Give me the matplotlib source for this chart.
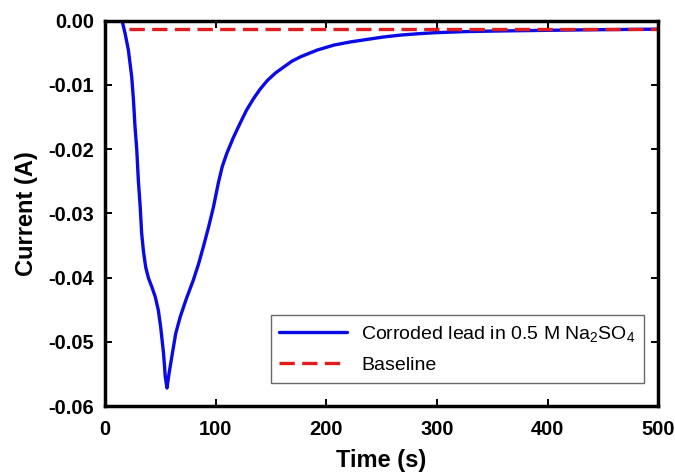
import matplotlib
matplotlib.use("Agg")
import matplotlib.pyplot as plt

plt.rcParams['font.family'] = ['Liberation Sans', 'DejaVu Sans']
plt.rcParams['mathtext.fontset'] = 'custom'
plt.rcParams['mathtext.rm'] = 'Liberation Sans'
plt.rcParams['mathtext.it'] = 'Liberation Sans:italic'
plt.rcParams['mathtext.bf'] = 'Liberation Sans:bold'

# Data
time_s = [15.4, 18.1, 21.1, 24.1, 25.7, 27.1, 28.7, 30.1, 31.8, 33.1, 34.8, 36.8, 39.3, 42.2,
          45.4, 48.2, 50.3, 52.9, 54.5, 56.0, 57.9, 60.4, 63.9, 68.0, 73.5, 79.8, 84.5, 88.9,
          93.5, 97.9, 102.5, 106.0, 110.0, 116.0, 122.0, 128.0, 134.0, 140.0, 146.8, 154.0,
          161.9, 169.0, 177.0, 192.0, 207.0, 222.0, 237.5, 252.0, 267.7, 283.0, 298.0, 325.0,
          356.0, 386.0, 430.0, 476.0, 500.0]
current_a = [0.0, -0.00196, -0.00456, -0.0087, -0.01235, -0.0165, -0.0201, -0.0248, -0.029,
             -0.0331, -0.0360, -0.0384, -0.0401, -0.0414, -0.0430, -0.0451, -0.0477, -0.0518,
             -0.0555, -0.0572, -0.0549, -0.0523, -0.0487, -0.0461, -0.0433, -0.0404, -0.0379,
             -0.0352, -0.0322, -0.0291, -0.0252, -0.0227, -0.0207, -0.0182, -0.0160, -0.0139,
             -0.0122, -0.0107, -0.0093, -0.00815, -0.00717, -0.0063, -0.0056, -0.00456,
             -0.00379, -0.0033, -0.0029, -0.00253, -0.00223, -0.00203, -0.00187, -0.0017,
             -0.0016, -0.00153, -0.00143, -0.00135, -0.00132]
baseline_t = [22, 500]
baseline_a = [-0.00134, -0.00134]

series_label = 'Corroded lead in 0.5 M Na$_2$SO$_4$'
baseline_label = 'Baseline'
xticks = [0, 100, 200, 300, 400, 500]
yticks = [0.00, -0.01, -0.02, -0.03, -0.04, -0.05, -0.06]

fig = plt.figure(figsize=(6.75, 4.76), dpi=100)
ax = fig.add_axes([0.1556, 0.147, 0.8194, 0.8095])

ax.plot(time_s, current_a, color='#0a0ae6', lw=2.4, label=series_label,
        solid_joinstyle='round', solid_capstyle='round')
ax.plot(baseline_t, baseline_a, color='#e01c1c', lw=2.4, ls=(0, (4.6, 2.2)),
        label=baseline_label)

ax.set_xlim(0, 500)
ax.set_ylim(-0.06, 0.0)
ax.set_xticks(xticks)
ax.set_yticks(yticks)
ax.set_yticklabels([f'{v:.2f}' for v in yticks])
ax.tick_params(direction='in', length=5, width=1.4, top=True, right=True,
               labelsize=14.5)
ax.tick_params(axis='x', pad=10)
ax.tick_params(axis='y', pad=8)
for lab in ax.get_xticklabels() + ax.get_yticklabels():
    lab.set_fontweight('bold')
for s in ax.spines.values():
    s.set_linewidth(2.5)

ax.set_xlabel('Time (s)', fontsize=17, fontweight='bold', labelpad=7)
ax.set_ylabel('Current (A)', fontsize=17, fontweight='bold', labelpad=7)

leg = ax.legend(loc='lower right', fontsize=14, frameon=True, fancybox=False,
                handlelength=3.5, handletextpad=0.7, borderpad=0.45, labelspacing=0.65,
                borderaxespad=0, bbox_to_anchor=(0.975, 0.06))
leg.get_frame().set_edgecolor('#444444')
leg.get_frame().set_linewidth(1.0)

fig.savefig('out.png', dpi=100)
